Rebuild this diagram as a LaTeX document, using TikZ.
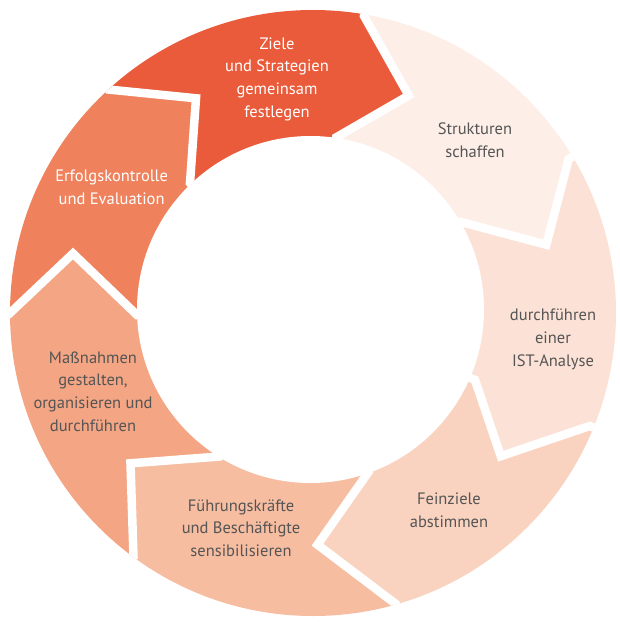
\documentclass[tikz,border=0pt]{standalone}
\usepackage{fontspec}
\setmainfont{PT Sans}
\usetikzlibrary{calc}
\definecolor{cZiele}{HTML}{E95B3A}
\definecolor{cErfolg}{HTML}{EF825C}
\definecolor{cMass}{HTML}{F3A584}
\definecolor{cFuehr}{HTML}{F6BDA1}
\definecolor{cFein}{HTML}{FAD3C0}
\definecolor{cDurch}{HTML}{FCE2D6}
\definecolor{cStruk}{HTML}{FDEFE8}
\definecolor{cText}{HTML}{555555}
\tikzset{
  gapline/.style={draw=white, line width=8.5bp, line join=miter, miter limit=20},
  lbl/.style={align=center, inner sep=0pt, text=cText, font=\fontsize{16.5bp}{22.7bp}\selectfont},
  lblw/.style={lbl, text=white}
}
\begin{document}
\begin{tikzpicture}[x=1bp, y=-1bp]
\useasboundingbox (0,0) rectangle (620,622);
\coordinate (co) at (313,313);
\coordinate (ci) at (310.5,309.5);
\foreach \n/\ox/\oy/\vx/\vy/\ix/\iy in {
  1/364/16/408.7/95.5/336/137.5,
  2/568.7/159/546.3/244.7/460.3/221.8,
  3/589.7/426/500.8/456.2/475/380,
  4/395.8/604/317.5/544.7/368.3/472.2,
  5/133.5/557/130.5/463.3/219.5/456.5,
  6/9/314/73/253.5/137/315,
  7/108.3/89.5/196/98.3/190/183}{
  \coordinate (o\n) at (\ox,\oy);
  \coordinate (v\n) at (\vx,\vy);
  \coordinate (i\n) at (\ix,\iy);
  \coordinate (oo\n) at ($(co)!1.35!(o\n)$);
  \coordinate (ii\n) at ($(ci)!0.8!(i\n)$);
}
\begin{scope}
  \clip (co) circle[radius=303];
  \foreach \a/\b/\c in {7/1/cZiele, 1/2/cStruk, 2/3/cDurch, 3/4/cFein, 4/5/cFuehr, 5/6/cMass, 6/7/cErfolg}{
    \fill[\c] (ci) -- (ii\a) -- (i\a) -- (v\a) -- (o\a) -- (oo\a) -- (oo\b) -- (o\b) -- (v\b) -- (i\b) -- (ii\b) -- cycle;
  }
  \foreach \n in {1,...,7}{
    \draw[gapline] (oo\n) -- (o\n) -- (v\n) -- (i\n) -- (ii\n);
  }
\end{scope}
\fill[white] (ci) circle[radius=173.5];
\node[lblw] (tziele) at (277,79) {Ziele\\und Strategien\\gemeinsam\\festlegen};
\node[lbl] (tstruk) at (475,140) {Strukturen\\schaffen};
\node[lbl] (tdurch) at (553,339.5) {durchführen\\einer\\IST-Analyse};
\node[lbl] (tfein) at (449,510.5) {Feinziele\\abstimmen};
\node[lbl] (tfuehr) at (241,528) {Führungskräfte\\und Beschäftigte\\sensibilisieren};
\node[lbl] (tmass) at (93,391.5) {Maßnahmen\\gestalten,\\organisieren und\\durchführen};
\node[lblw] (terfolg) at (111.6,187.5) {Erfolgskontrolle\\und Evaluation};
\end{tikzpicture}
\end{document}
